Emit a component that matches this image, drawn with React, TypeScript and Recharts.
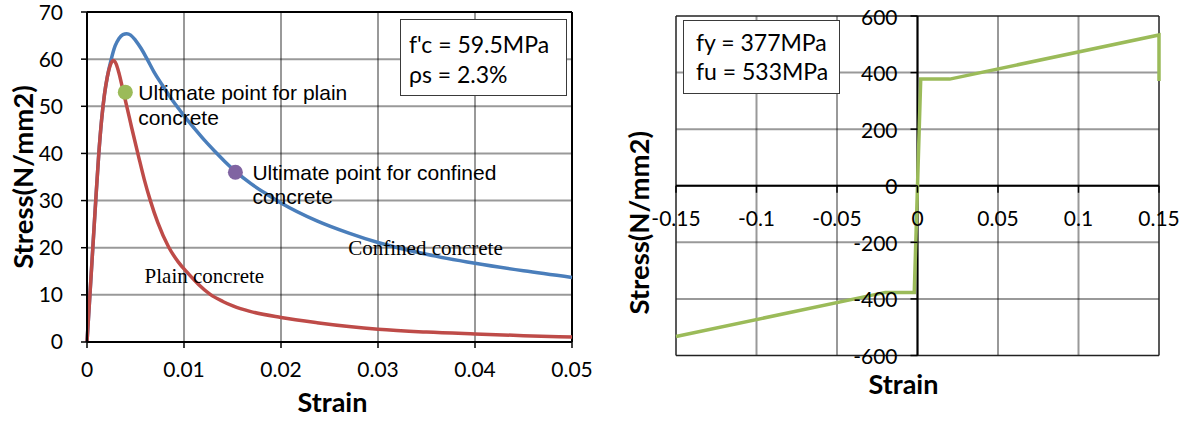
import React from 'react';
import {
  ComposedChart,
  Line,
  XAxis,
  YAxis,
  ReferenceLine,
  ReferenceDot,
  Label,
} from 'recharts';

// concrete stress-strain curves
const plainStrain = [0, 0.0003, 0.0006, 0.0009, 0.0012, 0.0015, 0.0018, 0.0021, 0.0024, 0.0027, 0.003, 0.0033, 0.0037, 0.0041, 0.0046, 0.0053, 0.0059, 0.0065, 0.0073, 0.0084, 0.0094, 0.0104, 0.0115, 0.0127, 0.014, 0.0151, 0.0168, 0.02, 0.0237, 0.03, 0.035, 0.04, 0.045, 0.05];
const plainStress = [0, 10, 20, 30, 39.5, 47, 52.5, 56.3, 58.7, 59.7, 59, 57, 53.5, 50, 45.5, 39.5, 34.5, 30.2, 25.3, 20.2, 17, 14.6, 12.2, 10.1, 8.6, 7.6, 6.5, 5.2, 4.1, 2.7, 2.1, 1.7, 1.35, 1.05];

const confinedStrain = [0, 0.0003, 0.0006, 0.0009, 0.0012, 0.0015, 0.0018, 0.0021, 0.0025, 0.0029, 0.0033, 0.0037, 0.0041, 0.0045, 0.005, 0.0056, 0.0062, 0.0069, 0.0077, 0.0085, 0.0093, 0.0102, 0.0112, 0.0122, 0.0132, 0.0142, 0.0153, 0.0169, 0.0185, 0.02, 0.0237, 0.027, 0.03, 0.035, 0.04, 0.045, 0.05];
const confinedStress = [0, 10, 20, 30, 39.5, 47, 52.5, 56.3, 60, 62.8, 64.4, 65.2, 65.4, 65.1, 64, 62.2, 60, 57.3, 54.7, 52.2, 49.9, 47.5, 45, 42.6, 40.4, 38.3, 36.2, 33.6, 31.4, 29.5, 25.7, 23.1, 21.1, 18.6, 16.7, 15.1, 13.7];

const plainUltimate = { strain: 0.00395, stress: 53 };
const confinedUltimate = { strain: 0.0153, stress: 36 };

const concreteXTicks = [0, 0.01, 0.02, 0.03, 0.04, 0.05];
const concreteYTicks = [0, 10, 20, 30, 40, 50, 60, 70];

// steel bilinear model
const steelStrain = [-0.15, -0.02, -0.002, 0.002, 0.02, 0.15, 0.15];
const steelStress = [-533, -377, -377, 377, 377, 533, 370];

const steelXTicks = [-0.15, -0.1, -0.05, 0, 0.05, 0.1, 0.15];
const steelYTicks = [-600, -400, -200, 0, 200, 400, 600];

const plainData = plainStrain.map((strain, i) => ({ strain, stress: plainStress[i] }));
const confinedData = confinedStrain.map((strain, i) => ({ strain, stress: confinedStress[i] }));
const steelData = steelStrain.map((strain, i) => ({ strain, stress: steelStress[i] }));

const FONT = 'Lato, "Noto Sans", sans-serif';
const ARIAL = '"Liberation Sans", Arial, sans-serif';
const TIMES = '"Liberation Serif", "Times New Roman", serif';

const tickStyle = { fill: '#000', fontSize: 21, fontFamily: FONT };

const yTitle = (dx: number, dy: number) => (props: any) => {
  const vb = props.viewBox;
  const cx = vb.x + dx;
  const cy = vb.y + vb.height / 2 + dy;
  return (
    <text x={cx} y={cy} transform={`rotate(-90, ${cx}, ${cy})`} textAnchor="middle" dominantBaseline="central"
      fill="#000" fontSize={27.5} fontWeight={700} fontFamily={FONT}>
      Stress(N/mm2)
    </text>
  );
};

const xTitle = (dx: number, dy: number) => (props: any) => {
  const vb = props.viewBox;
  return (
    <text x={vb.x + vb.width / 2 + dx} y={vb.y + dy} textAnchor="middle" dominantBaseline="central"
      fill="#000" fontSize={27} fontWeight={700} fontFamily={FONT}>
      Strain
    </text>
  );
};

const pointWithText = (color: string, lines: string[], dx: number, gap: number) => (p: any) => (
  <g>
    <circle cx={p.cx} cy={p.cy} r={7.5} fill={color} />
    {lines.map((t, i) => (
      <text key={i} x={p.cx + dx} y={p.cy + i * gap} dominantBaseline="central" fill="#000" fontSize={21} fontFamily={ARIAL}>
        {t}
      </text>
    ))}
  </g>
);

const curveName = (text: string) => (p: any) => (
  <text x={p.cx} y={p.cy} textAnchor="middle" dominantBaseline="central" fill="#000" fontSize={21} fontFamily={TIMES}>
    {text}
  </text>
);

const boxStyle: React.CSSProperties = {
  position: 'absolute',
  boxSizing: 'border-box',
  background: '#fff',
  border: '1.5px solid #3a3a3a',
  fontFamily: FONT,
  fontSize: 23,
  lineHeight: '30px',
  color: '#000',
  whiteSpace: 'nowrap',
};

const ConcreteChart = () => (
  <ComposedChart width={600} height={421} margin={{ top: 12, right: 28, bottom: 19, left: 0 }}>
    {concreteXTicks.slice(1, -1).map((v) => (
      <ReferenceLine key={'gx' + v} x={v} stroke="#000" strokeOpacity={0.4} strokeWidth={2} />
    ))}
    {concreteYTicks.slice(1, -1).map((v) => (
      <ReferenceLine key={'gy' + v} y={v} stroke="#000" strokeOpacity={0.4} strokeWidth={2} />
    ))}
    <ReferenceLine x={0.05} stroke="#000" strokeWidth={2} />
    <ReferenceLine y={70} stroke="#000" strokeWidth={2} />
    <XAxis type="number" dataKey="strain" domain={[0, 0.05]} ticks={concreteXTicks} height={60}
      axisLine={{ stroke: '#000', strokeWidth: 2 }} tickLine={{ stroke: '#000', strokeWidth: 1.5 }}
      tickSize={6} tickMargin={14} tick={tickStyle}>
      <Label content={xTitle(3, 59)} />
    </XAxis>
    <YAxis type="number" dataKey="stress" domain={[0, 70]} ticks={concreteYTicks} width={87}
      axisLine={{ stroke: '#000', strokeWidth: 2 }} tickLine={{ stroke: '#000', strokeWidth: 1.5 }}
      tickSize={6} tickMargin={18} tick={tickStyle}>
      <Label content={yTitle(22, 0)} />
    </YAxis>
    <Line data={confinedData} dataKey="stress" type="monotone" stroke="#4a7ebb" strokeWidth={3.5} dot={false} isAnimationActive={false} />
    <Line data={plainData} dataKey="stress" type="monotone" stroke="#be4b48" strokeWidth={3.5} dot={false} isAnimationActive={false} />
    <ReferenceDot x={0.0349} y={20} r={1} ifOverflow="visible" shape={curveName('Confined concrete')} />
    <ReferenceDot x={0.0121} y={13.9} r={1} ifOverflow="visible" shape={curveName('Plain concrete')} />
    <ReferenceDot x={plainUltimate.strain} y={plainUltimate.stress} r={7.5} ifOverflow="visible"
      shape={pointWithText('#9bbb59', ['Ultimate point for plain', 'concrete'], 13, 25)} />
    <ReferenceDot x={confinedUltimate.strain} y={confinedUltimate.stress} r={7.5} ifOverflow="visible"
      shape={pointWithText('#8064a2', ['Ultimate point for confined', 'concrete'], 17, 24.5)} />
  </ComposedChart>
);

const SteelChart = () => (
  <ComposedChart width={587} height={421} margin={{ top: 16, right: 28, bottom: 0, left: 0 }}>
    {steelXTicks.slice(1, -1).map((v) => (
      <ReferenceLine key={'gx' + v} x={v} stroke="#000" strokeOpacity={0.4} strokeWidth={2} />
    ))}
    {steelYTicks.slice(1, -1).map((v) => (
      <ReferenceLine key={'gy' + v} y={v} stroke="#000" strokeOpacity={0.4} strokeWidth={2} />
    ))}
    <ReferenceLine x={-0.15} stroke="#222" strokeWidth={1.5} />
    <ReferenceLine x={0.15} stroke="#222" strokeWidth={1.5} />
    <ReferenceLine y={-600} stroke="#222" strokeWidth={1.5} />
    <ReferenceLine y={600} stroke="#222" strokeWidth={1.5} />
    <XAxis type="number" dataKey="strain" domain={[-0.15, 0.15]} ticks={steelXTicks} height={65.5}
      axisLine={false} tickLine={false} tick={false}>
      <Label content={xTitle(-14, 27.5)} />
    </XAxis>
    <YAxis type="number" dataKey="stress" domain={[-600, 600]} ticks={steelYTicks} width={76}
      axisLine={false} tickLine={false} tick={false}>
      <Label content={yTitle(38, 37)} />
    </YAxis>
    <ReferenceLine y={0} stroke="#000" strokeWidth={2} />
    <ReferenceLine x={0} stroke="#000" strokeWidth={2} />
    {steelYTicks.map((v) => (
      <ReferenceDot key={'y' + v} x={0} y={v} r={1} ifOverflow="visible"
        shape={(p: any) => (
          <g>
            <line x1={p.cx - 7} y1={p.cy} x2={p.cx} y2={p.cy} stroke="#000" strokeWidth={1.5} />
            <text x={p.cx - 20} y={p.cy} textAnchor="end" dominantBaseline="central" {...tickStyle}>{v}</text>
          </g>
        )} />
    ))}
    {steelXTicks.map((v) => (
      <ReferenceDot key={'x' + v} x={v} y={0} r={1} ifOverflow="visible"
        shape={(p: any) => (
          <g>
            <line x1={p.cx} y1={p.cy} x2={p.cx} y2={p.cy + 7} stroke="#000" strokeWidth={1.5} />
            <text x={p.cx} y={p.cy + 32} textAnchor="middle" dominantBaseline="central" {...tickStyle}>{v}</text>
          </g>
        )} />
    ))}
    <Line data={steelData} dataKey="stress" type="linear" stroke="#9bbb59" strokeWidth={3.5} dot={false} isAnimationActive={false} />
  </ComposedChart>
);

export default function App() {
  return (
    <div style={{ position: 'fixed', left: 0, top: 0, width: 1187, height: 421, background: '#fff' }}>
      <div style={{ position: 'absolute', left: 0, top: 0 }}>
        <ConcreteChart />
      </div>
      <div style={{ position: 'absolute', left: 600, top: 0 }}>
        <SteelChart />
      </div>
      <div style={{ ...boxStyle, left: 400, top: 19, width: 167, height: 77, padding: '9px 0 0 8px' }}>
        <div>f'c = 59.5MPa</div>
        <div>ρs = 2.3%</div>
      </div>
      <div style={{ ...boxStyle, left: 683, top: 20, width: 157, height: 74, padding: '7px 0 0 12px', lineHeight: '29px' }}>
        <div>fy = 377MPa</div>
        <div>fu = 533MPa</div>
      </div>
    </div>
  );
}
